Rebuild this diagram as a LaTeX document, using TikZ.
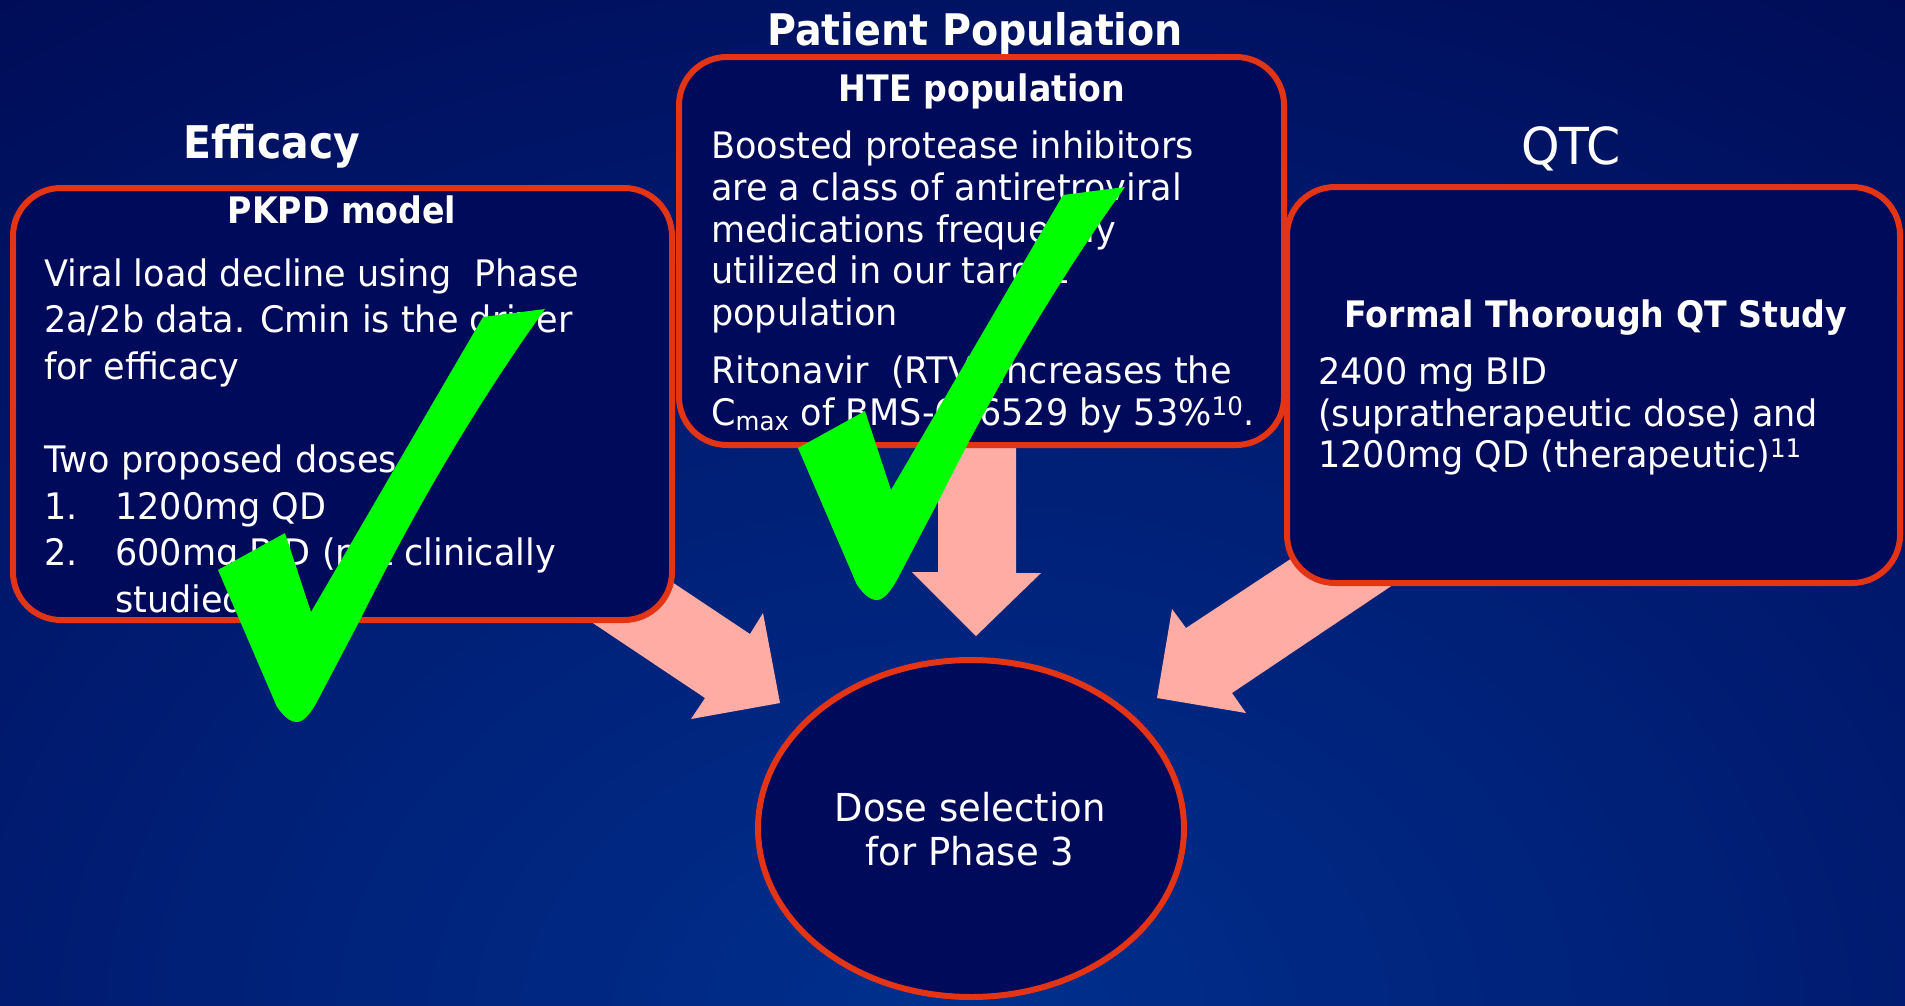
\documentclass[tikz,border=0pt]{standalone}
\usepackage{fontspec}
\setmainfont{DejaVu Sans}[FakeStretch=0.96, BoldFeatures={FakeStretch=0.91}]
\usetikzlibrary{shapes.geometric}
\definecolor{bgdark}{RGB}{0,0,66}
\definecolor{bgmid}{RGB}{0,22,105}
\definecolor{bglight}{RGB}{0,48,142}
\definecolor{boxfill}{RGB}{0,10,90}
\definecolor{boxline}{RGB}{228,52,22}
\definecolor{arrowpink}{RGB}{255,172,165}
\definecolor{checkgreen}{RGB}{0,255,0}
\pgfdeclareradialshading{bgshade}{\pgfpoint{0bp}{0bp}}{color(0bp)=(bglight); color(13bp)=(bgmid); color(25bp)=(bgdark); color(50bp)=(bgdark)}
\begin{document}
\begin{tikzpicture}[x=1pt,y=-1pt,
  box/.style={draw=boxline, line width=6pt, fill=boxfill, rounded corners=48pt, inner sep=0pt},
  txt/.style={text=white, inner sep=0pt, anchor=base west, font=\fontsize{36.5}{44}\selectfont},
  ctxt/.style={text=white, inner sep=0pt, anchor=base, font=\fontsize{38.5}{46}\selectfont},
  hdr/.style={text=white, inner sep=0pt, anchor=base, font=\bfseries\fontsize{36.5}{44}\selectfont},
  ttl/.style={text=white, inner sep=0pt, anchor=base, font=\bfseries\fontsize{45}{54}\selectfont},
  blockarrow/.style={fill=arrowpink},
  tick/.style={fill=checkgreen}]
% background
\path[use as bounding box] (0,0) rectangle (1905,1005);
\fill[bgdark] (0,0) rectangle (1905,1005);
\begin{scope}
\clip (0,0) rectangle (1905,1005);
\path[shading=bgshade] (955,1030) ellipse [x radius=2300, y radius=1700];
\end{scope}
% block arrows (under the boxes)
\fill[blockarrow] (600,534) -- (750,634) -- (763,613) -- (780,703) -- (691,719) -- (705,698) -- (521,575) -- cycle;
\fill[blockarrow] (938,420) -- (938,572) -- (912,572) -- (976,636) -- (1041,573) -- (1016,573) -- (1016,420) -- cycle;
\fill[blockarrow] (1380,500) -- (1186,628) -- (1172,609) -- (1157,698) -- (1246,713) -- (1232,693) -- (1430,560) -- cycle;
% boxes
\node[box, minimum width=659pt, minimum height=432pt] (eff) at (342.5,404) {};
\node[box, minimum width=605pt, minimum height=388pt] (pop) at (981.5,251) {};
\node[box, minimum width=613pt, minimum height=396pt] (qtc) at (1593.5,385) {};
\node[draw=boxline, line width=6pt, fill=boxfill, ellipse, inner sep=0pt, minimum width=426pt, minimum height=337pt] (dose) at (971,828.5) {};
% titles
\node[ttl] (tEff) at (272,158) {Efficacy};
\node[ttl, font=\bfseries\fontsize{43.5}{52}\selectfont] (tPop) at (975,45) {Patient Population};
\node[text=white, inner sep=0pt, anchor=base, font=\fontsize{51}{60}\selectfont] (tQtc) at (1571,164) {QTC};
% left box text
\node[hdr] (hEff) at (342,223) {PKPD model};
\node[txt] (e1) at (44,286) {Viral load decline using\ \ Phase};
\node[txt] (e2) at (44,332.6) {2a/2b data. Cmin is the driver};
\node[txt] (e3) at (44,379.2) {for efficacy};
\node[txt] (e4) at (44,472.4) {Two proposed doses};
\node[txt] (e5n) at (44,519) {1.};
\node[txt] (e5) at (115,519) {1200mg QD};
\node[txt] (e6n) at (44,565.6) {2.};
\node[txt] (e6) at (115,565.6) {600mg BID (not clinically};
\node[txt] (e7) at (115,612.2) {studied)};
% middle box text
\node[hdr] (hPop) at (982,101) {HTE population};
\node[txt] (p1) at (711,158) {Boosted protease inhibitors};
\node[txt] (p2) at (711,200) {are a class of antiretroviral};
\node[txt] (p3) at (711,242) {medications frequently};
\node[txt] (p4) at (711,283) {utilized in our target};
\node[txt] (p5) at (711,325) {population};
\node[txt] (p6) at (711,383) {Ritonavir\ \ (RTV) increases the};
\node[txt] (p7) at (711,425) {C\textsubscript{max} of BMS-626529 by 53\%\textsuperscript{10}.};
% right box text
\node[hdr] (hQtc) at (1596,327) {Formal Thorough QT Study};
\node[txt] (q1) at (1318,384) {2400 mg BID};
\node[txt] (q2) at (1318,426) {(supratherapeutic dose) and};
\node[txt] (q3) at (1318,467) {1200mg QD (therapeutic)\textsuperscript{11}};
% circle text
\node[ctxt] (d1) at (970,821) {Dose selection};
\node[ctxt] (d2) at (970,865) {for Phase 3};
% check marks
\foreach \dx/\dy in {0/0, 580/-122}{
\begin{scope}[shift={(\dx,\dy)}]
\fill[tick] (218,570) -- (285,533) -- (311,612) -- (483,317) -- (545,309)
  .. controls (480,400) and (420,500) .. (360,620)
  -- (318,700)
  .. controls (310,715) and (303,722) .. (297,722)
  .. controls (289,722) and (283,715) .. (277,707) -- cycle;
\end{scope}}
\end{tikzpicture}
\end{document}
